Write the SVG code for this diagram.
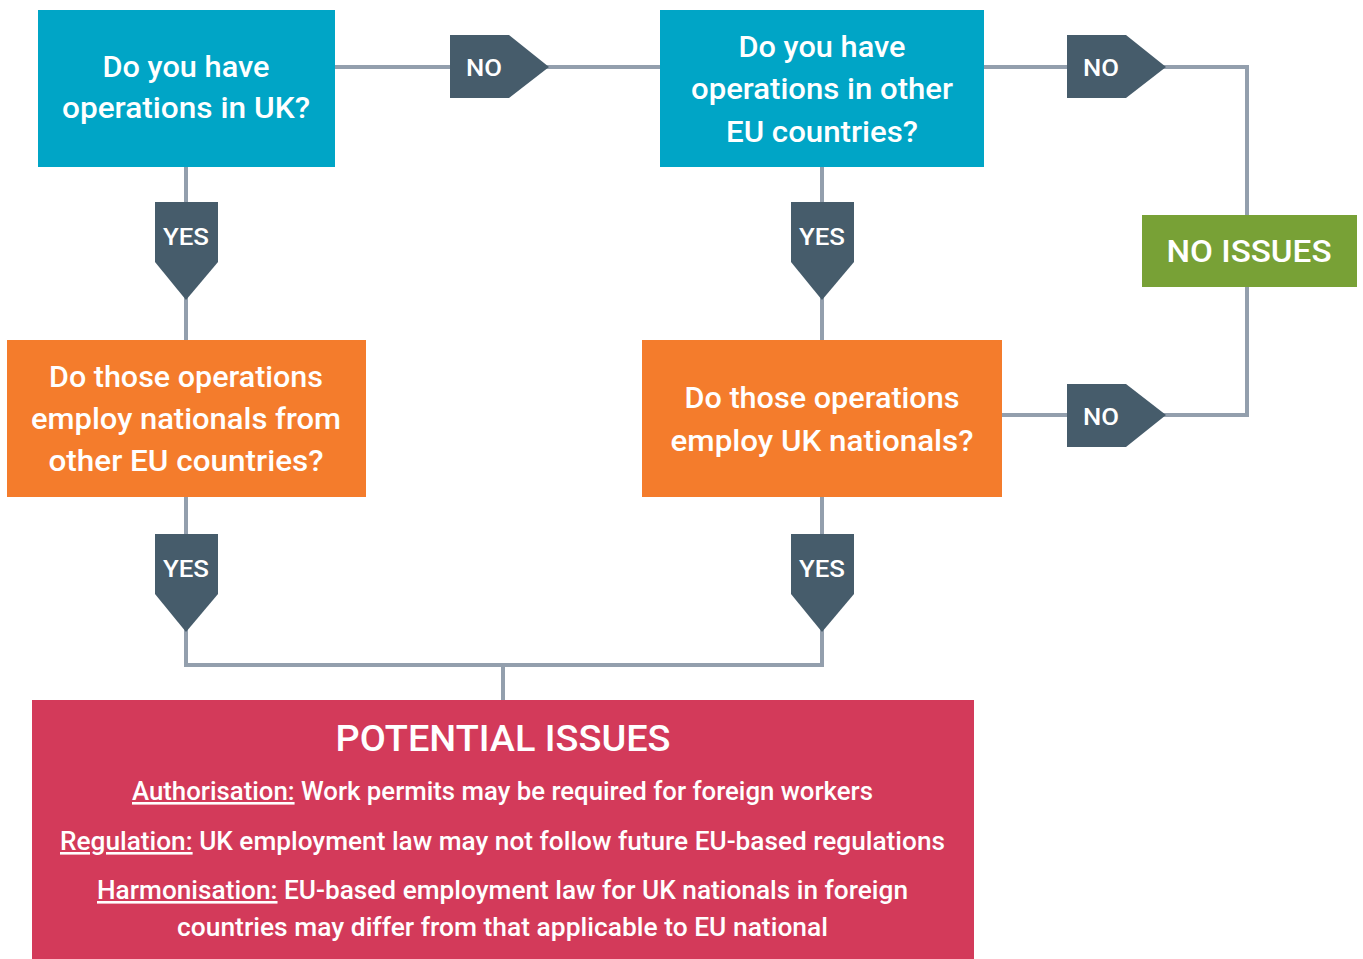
<svg xmlns="http://www.w3.org/2000/svg" width="1363" height="959" viewBox="0 0 1363 959">
<style>
.t{font-family:Roboto,"Liberation Sans",sans-serif;font-weight:500;fill:#fff;text-anchor:middle}
.q{font-size:29px}
.tag{fill:#465c6b}
.c{fill:none;stroke:#939fad;stroke-width:4}
.u{text-decoration:underline}
</style>
<rect width="1363" height="959" fill="#fff"/>
<g id="connectors">
<path class="c" d="M335 67H660"/>
<path class="c" d="M984 67H1247V215"/>
<path class="c" d="M1247 287V415H1002"/>
<path class="c" d="M186 167V340"/>
<path class="c" d="M822 167V340"/>
<path class="c" d="M186 497V665H822V497"/>
<path class="c" d="M503 665V700"/>
<polygon class="tag" points="450,35 509,35 549,67 509,98 450,98"/>
<text class="t" x="484" y="76" font-size="24" textLength="36" lengthAdjust="spacingAndGlyphs">NO</text>
<polygon class="tag" points="1067,35 1126,35 1166,67 1126,98 1067,98"/>
<text class="t" x="1101" y="76" font-size="24" textLength="36" lengthAdjust="spacingAndGlyphs">NO</text>
<polygon class="tag" points="1067,384 1126,384 1166,415 1126,447 1067,447"/>
<text class="t" x="1101" y="425" font-size="24" textLength="36" lengthAdjust="spacingAndGlyphs">NO</text>
<polygon class="tag" points="155,202 218,202 218,262 186,300 155,262"/>
<text class="t" x="186" y="245" font-size="24" textLength="46" lengthAdjust="spacingAndGlyphs">YES</text>
<polygon class="tag" points="791,202 854,202 854,262 822,300 791,262"/>
<text class="t" x="822" y="245" font-size="24" textLength="46" lengthAdjust="spacingAndGlyphs">YES</text>
<polygon class="tag" points="155,534 218,534 218,594 186,632 155,594"/>
<text class="t" x="186" y="577" font-size="24" textLength="46" lengthAdjust="spacingAndGlyphs">YES</text>
<polygon class="tag" points="791,534 854,534 854,594 822,632 791,594"/>
<text class="t" x="822" y="577" font-size="24" textLength="46" lengthAdjust="spacingAndGlyphs">YES</text>
</g>
<g id="q-uk">
<rect x="38" y="10" width="297" height="157" fill="#00a5c6"/>
<text class="t q" x="186" y="77" textLength="167" lengthAdjust="spacingAndGlyphs">Do you have</text>
<text class="t q" x="186" y="118" textLength="248" lengthAdjust="spacingAndGlyphs">operations in UK?</text>
</g>
<g id="q-eu">
<rect x="660" y="10" width="324" height="157" fill="#00a5c6"/>
<text class="t q" x="822" y="57" textLength="167" lengthAdjust="spacingAndGlyphs">Do you have</text>
<text class="t q" x="822" y="99" textLength="262" lengthAdjust="spacingAndGlyphs">operations in other</text>
<text class="t q" x="822" y="142" textLength="192" lengthAdjust="spacingAndGlyphs">EU countries?</text>
</g>
<g id="q-eu-nationals">
<rect x="7" y="340" width="359" height="157" fill="#f47c2c"/>
<text class="t q" x="186" y="387" textLength="274" lengthAdjust="spacingAndGlyphs">Do those operations</text>
<text class="t q" x="186" y="429" textLength="310" lengthAdjust="spacingAndGlyphs">employ nationals from</text>
<text class="t q" x="186" y="471" textLength="275" lengthAdjust="spacingAndGlyphs">other EU countries?</text>
</g>
<g id="q-uk-nationals">
<rect x="642" y="340" width="360" height="157" fill="#f47c2c"/>
<text class="t q" x="822" y="408" textLength="275" lengthAdjust="spacingAndGlyphs">Do those operations</text>
<text class="t q" x="822" y="451" textLength="303" lengthAdjust="spacingAndGlyphs">employ UK nationals?</text>
</g>
<g id="no-issues">
<rect x="1142" y="215" width="215" height="72" fill="#78a136"/>
<text class="t" x="1249" y="262" font-size="32" textLength="165" lengthAdjust="spacingAndGlyphs">NO ISSUES</text>
</g>
<g id="potential-issues">
<rect x="32" y="700" width="942" height="259" fill="#d33a5a"/>
<text class="t" x="503" y="751" font-size="37" textLength="335" lengthAdjust="spacingAndGlyphs">POTENTIAL ISSUES</text>
<text class="t" x="502.5" y="800" font-size="26" textLength="741" lengthAdjust="spacingAndGlyphs"><tspan class="u">Authorisation:</tspan> Work permits may be required for foreign workers</text>
<text class="t" x="502.5" y="850" font-size="26" textLength="885" lengthAdjust="spacingAndGlyphs"><tspan class="u">Regulation:</tspan> UK employment law may not follow future EU-based regulations</text>
<text class="t" x="502.5" y="899" font-size="26" textLength="811" lengthAdjust="spacingAndGlyphs"><tspan class="u">Harmonisation:</tspan> EU-based employment law for UK nationals in foreign</text>
<text class="t" x="502.5" y="936" font-size="26" textLength="651" lengthAdjust="spacingAndGlyphs">countries may differ from that applicable to EU national</text>
</g>
</svg>
